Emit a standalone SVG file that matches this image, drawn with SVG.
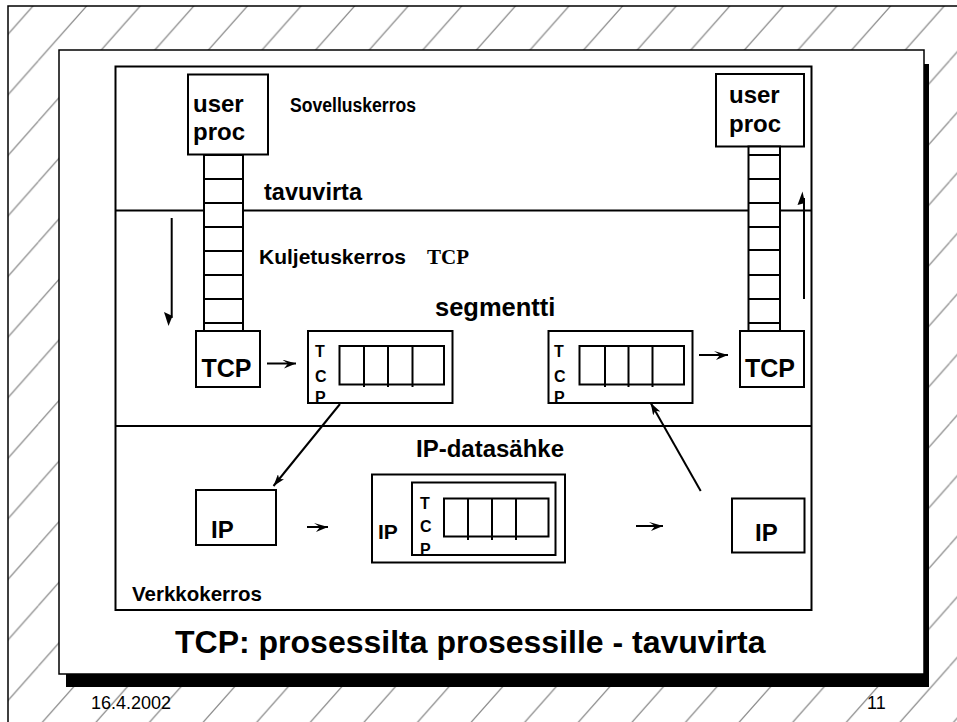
<svg xmlns="http://www.w3.org/2000/svg" width="957" height="722" viewBox="0 0 957 722">
<style>
.box{fill:#fff;stroke:#000;stroke-width:2}
.ln{stroke:#000;stroke-width:2;fill:none}
.rung{stroke:#000;stroke-width:2}
.t{font-family:"Liberation Sans",Arial,sans-serif;font-weight:bold;fill:#000}
.serif{font-family:"Liberation Serif","Times New Roman",serif;font-weight:bold;fill:#000}
.foot{font-family:"Liberation Sans",Arial,sans-serif;fill:#000;font-size:18px}
</style>
<defs>
<pattern id="hatch" patternUnits="userSpaceOnUse" x="38.3" y="0" width="53.6" height="60.57">
<path d="M0,60.57 L53.6,0 M-53.6,60.57 L0,0 M53.6,60.57 L107.2,0" stroke="#8a8a8a" stroke-width="1.2" fill="none"/>
</pattern>
<marker id="ah" viewBox="0 0 12 8" refX="12" refY="4" markerWidth="12" markerHeight="8" markerUnits="userSpaceOnUse" orient="auto">
<path d="M0,0 L12,4 L0,8 L3,4 z" fill="#000"/>
</marker>
<marker id="sh" viewBox="0 0 14 9" refX="14" refY="4" markerWidth="14" markerHeight="9" markerUnits="userSpaceOnUse" orient="auto">
<path d="M0,0 L14,4 L2,9 L6,4 z" fill="#000"/>
</marker>
</defs>

<g id="background">
<rect x="8" y="6" width="960" height="730" fill="#fff" stroke="none"/>
<rect x="8" y="6" width="960" height="730" fill="url(#hatch)" stroke="none"/>
<rect x="8" y="6" width="960" height="730" fill="none" stroke="#000" stroke-width="1.5"/>
<rect x="66" y="64" width="863" height="623" fill="#000"/>
<rect x="59" y="50" width="865" height="624" fill="#fff" stroke="#000" stroke-width="1.5"/>
</g>

<g id="layers">
<rect x="115.5" y="66.5" width="696" height="543.5" fill="none" stroke="#000" stroke-width="2"/>
<line x1="115.5" y1="210.5" x2="811.5" y2="210.5" class="ln"/>
<line x1="115.5" y1="426" x2="811.5" y2="426" class="ln"/>
<text class="t" x="290" y="112" font-size="20" textLength="126" lengthAdjust="spacingAndGlyphs">Sovelluskerros</text>
<text class="t" x="264" y="200" font-size="23.5">tavuvirta</text>
<text class="t" x="259" y="264" font-size="21">Kuljetuskerros</text>
<text class="serif" x="427" y="264" font-size="21">TCP</text>
<text class="t" x="435" y="316" font-size="25.5">segmentti</text>
<text class="t" x="416" y="457" font-size="24">IP-datasähke</text>
<text class="t" x="132" y="601" font-size="20.5">Verkkokerros</text>
</g>

<g id="userproc-left">
<rect class="box" x="188" y="74.5" width="80" height="80"/>
<text class="t" x="193" y="112" font-size="24">user</text>
<text class="t" x="193" y="140" font-size="24">proc</text>
</g>

<g id="ladder-left">
<rect class="box" x="204" y="155" width="39" height="176"/>
<path class="rung" d="M204,179H243M204,203H243M204,227H243M204,251H243M204,275H243M204,299H243M204,323H243"/>
</g>

<g id="userproc-right">
<rect class="box" x="716" y="74" width="88" height="72.5"/>
<text class="t" x="729" y="103" font-size="24">user</text>
<text class="t" x="729" y="131.5" font-size="24">proc</text>
</g>

<g id="ladder-right">
<rect class="box" x="748.5" y="146.5" width="31.5" height="184.5"/>
<path class="rung" d="M748.5,155H780M748.5,179H780M748.5,203H780M748.5,227H780M748.5,250H780M748.5,275H780M748.5,299H780M748.5,323H780"/>
</g>

<g id="tcp-left">
<rect class="box" x="196" y="331" width="64" height="56"/>
<text class="t" x="201.5" y="376.5" font-size="25">TCP</text>
</g>

<g id="segment-left">
<rect class="box" x="308" y="331" width="144.5" height="72"/>
<rect class="box" x="339.5" y="346" width="104.5" height="38.5"/>
<path class="rung" d="M364,346V387M388,346V387M412.5,346V387"/>
<text class="t" x="315" y="357" font-size="16">T</text>
<text class="t" x="315" y="382" font-size="16">C</text>
<text class="t" x="315" y="403" font-size="16">P</text>
<line x1="308" y1="403" x2="452.5" y2="403" class="ln"/>
</g>

<g id="segment-right">
<rect class="box" x="548.5" y="331" width="144" height="72"/>
<rect class="box" x="579.5" y="346" width="104.5" height="38.5"/>
<path class="rung" d="M605,346V387M628.5,346V387M652.5,346V387"/>
<text class="t" x="554" y="357" font-size="16">T</text>
<text class="t" x="554" y="382" font-size="16">C</text>
<text class="t" x="554" y="403" font-size="16">P</text>
<line x1="548.5" y1="403" x2="692.5" y2="403" class="ln"/>
</g>

<g id="tcp-right">
<rect class="box" x="740" y="331" width="64" height="56"/>
<text class="t" x="745" y="376.5" font-size="25">TCP</text>
</g>

<g id="ip-left">
<rect class="box" x="196" y="490" width="80" height="55"/>
<text class="t" x="211" y="537.5" font-size="24">IP</text>
</g>

<g id="datagram">
<rect class="box" x="372" y="474.5" width="193" height="88"/>
<text class="t" x="378" y="539" font-size="21">IP</text>
<rect class="box" x="412" y="482.5" width="143.5" height="72.5"/>
<rect class="box" x="444" y="498.5" width="104.5" height="38"/>
<path class="rung" d="M468,498.5V540M492,498.5V540M516,498.5V540"/>
<text class="t" x="420" y="508.5" font-size="16">T</text>
<text class="t" x="420" y="532" font-size="16">C</text>
<text class="t" x="420" y="555" font-size="16">P</text>
<line x1="412" y1="555" x2="555.5" y2="555" class="ln"/>
</g>

<g id="ip-right">
<rect class="box" x="732" y="498.5" width="72.5" height="54"/>
<text class="t" x="755" y="541" font-size="24">IP</text>
</g>

<g id="connectors">
<line class="ln" x1="171.7" y1="218" x2="171.7" y2="318"/>
<polygon points="164,312 168.5,326 172.5,316" fill="#000"/>
<line class="ln" x1="804" y1="299" x2="804" y2="198"/>
<polygon points="797.5,205 802.5,191.5 805,203" fill="#000"/>
<line class="ln" x1="267" y1="363.5" x2="296" y2="363.5" marker-end="url(#sh)"/>
<line class="ln" x1="699" y1="355" x2="728" y2="355" marker-end="url(#sh)"/>
<line class="ln" x1="307" y1="527" x2="328" y2="527" marker-end="url(#sh)"/>
<line class="ln" x1="636" y1="526" x2="663" y2="526" marker-end="url(#sh)"/>
<line class="ln" x1="340" y1="404" x2="273.5" y2="486" marker-end="url(#ah)"/>
<line class="ln" x1="700.7" y1="491" x2="650.7" y2="403" marker-end="url(#ah)"/>
</g>

<g id="title">
<text class="t" x="175" y="653" font-size="32">TCP: prosessilta prosessille - tavuvirta</text>
<text class="foot" x="91" y="709">16.4.2002</text>
<text class="foot" x="867" y="709">11</text>
</g>
</svg>
